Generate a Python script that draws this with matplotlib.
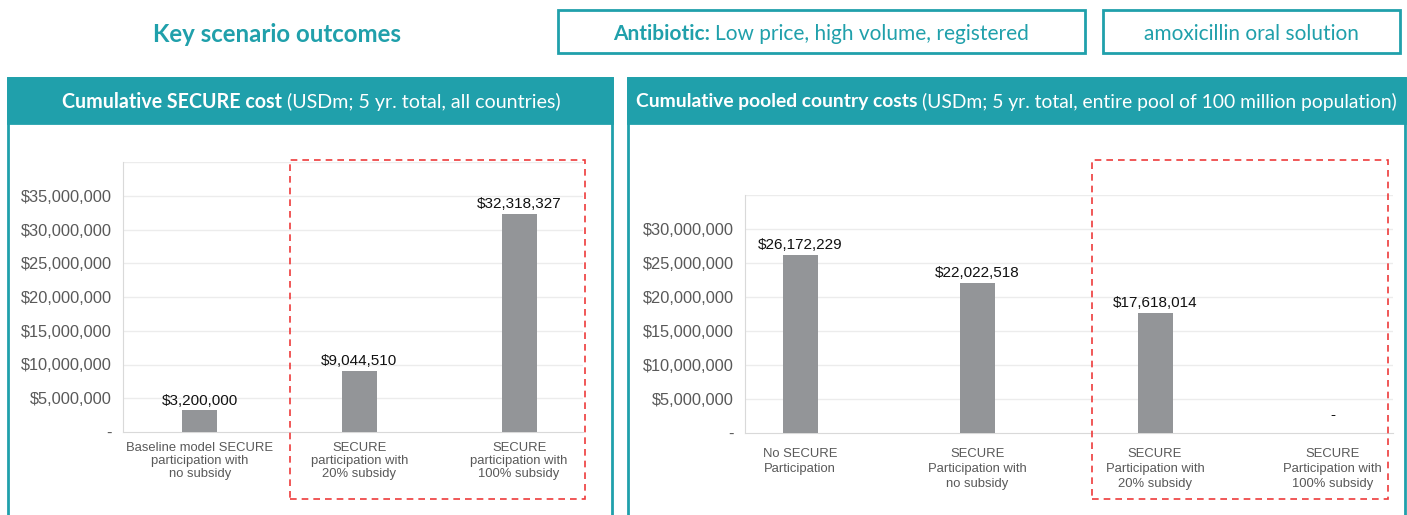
import matplotlib
matplotlib.use("Agg")
import matplotlib.pyplot as plt
from matplotlib.patches import Rectangle

# data
left_categories = ["Baseline model SECURE\nparticipation with\nno subsidy",
                   "SECURE\nparticipation with\n20% subsidy",
                   "SECURE\nparticipation with\n100% subsidy"]
left_values = [3200000, 9044510, 32318327]
left_ticks = [0, 5000000, 10000000, 15000000, 20000000, 25000000, 30000000, 35000000]

right_categories = ["No SECURE\nParticipation",
                    "SECURE\nParticipation with\nno subsidy",
                    "SECURE\nParticipation with\n20% subsidy",
                    "SECURE\nParticipation with\n100% subsidy"]
right_values = [26172229, 22022518, 17618014, 0]
right_ticks = [0, 5000000, 10000000, 15000000, 20000000, 25000000, 30000000]

TEAL = "#20a0ab"
BAR = "#939598"
W, H = 1407, 515

fig = plt.figure(figsize=(W / 100, H / 100), dpi=100)
fig.patch.set_facecolor("white")
HEAD = ["Lato", "DejaVu Sans"]
BODY = ["Liberation Sans", "DejaVu Sans"]


def px(x0, y0, x1, y1):
    # pixel box (top-left origin) -> figure fraction rect
    return [x0 / W, 1 - y1 / H, (x1 - x0) / W, (y1 - y0) / H]


def rect(x0, y0, x1, y1, **kw):
    r = Rectangle((x0 / W, 1 - y1 / H), (x1 - x0) / W, (y1 - y0) / H,
                  transform=fig.transFigure, **kw)
    fig.add_artist(r)


renderer = fig.canvas.get_renderer()


def two_part(cx, cy, bold, normal, size, color):
    # bold + regular text centred together on cx
    t1 = fig.text(0, 0, bold, fontsize=size, fontweight="bold", family=HEAD, color=color)
    t2 = fig.text(0, 0, normal, fontsize=size, family=HEAD, color=color)
    w1 = t1.get_window_extent(renderer).width
    w2 = t2.get_window_extent(renderer).width
    x = cx - (w1 + w2) / 2
    t1.set_position((x / W, 1 - cy / H))
    t2.set_position(((x + w1) / W, 1 - cy / H))
    t1.set_va("center")
    t2.set_va("center")


# top row
fig.text(277 / W, 1 - 35 / H, "Key scenario outcomes", fontsize=17.3, fontweight="bold",
         family=HEAD, color=TEAL, ha="center", va="center")
rect(558, 10, 1085, 53, fill=False, edgecolor=TEAL, linewidth=2)
two_part(821, 34, "Antibiotic: ", "Low price, high volume, registered", 15, TEAL)
rect(1103, 10, 1400, 53, fill=False, edgecolor=TEAL, linewidth=2)
fig.text(1251 / W, 1 - 34 / H, "amoxicillin oral solution", fontsize=15, family=HEAD,
         color=TEAL, ha="center", va="center")

# panel frames and headers
for x0, x1 in [(8, 612), (628, 1405)]:
    rect(x0, 78, x1, 520, fill=False, edgecolor=TEAL, linewidth=2)
    rect(x0, 78, x1, 123, facecolor=TEAL, edgecolor=TEAL, linewidth=2)
two_part(311, 102, "Cumulative SECURE cost ", "(USDm; 5 yr. total, all countries)", 14.1, "white")
two_part(1016, 102, "Cumulative pooled country costs ",
         "(USDm; 5 yr. total, entire pool of 100 million population)", 13.9, "white")


def money(v):
    return "-" if v == 0 else "${:,.0f}".format(v)


def bar_chart(box, cats, vals, ticks, ymax, xlim, width, xpad, lsp):
    ax = fig.add_axes(px(*box))
    pos = list(range(len(cats)))
    ax.bar(pos, vals, width=width, color=BAR, zorder=3)
    ax.set_xlim(*xlim)
    ax.set_ylim(0, ymax)
    ax.set_yticks(ticks)
    ax.set_yticklabels([money(t) for t in ticks], fontsize=11.8, family=BODY, color="#595959")
    ax.set_xticks(pos)
    ax.set_xticklabels(cats, fontsize=9.4, family=BODY, color="#595959", linespacing=lsp)
    ax.tick_params(axis="x", length=0, pad=xpad)
    ax.tick_params(axis="y", length=0, pad=8)
    for t in ticks[1:] + [ymax]:
        ax.axhline(t, color="#ececec", linewidth=1, zorder=1)
    for s in ["top", "right"]:
        ax.spines[s].set_visible(False)
    for s in ["left", "bottom"]:
        ax.spines[s].set_color("#d9d9d9")
    for p, v in zip(pos, vals):
        ax.annotate(money(v), (p, v), xytext=(0, 2 if v else 8), textcoords="offset points",
                    ha="center", va="bottom", fontsize=11, family=BODY, color="#111111")
    return ax


bar_chart((123, 162, 583, 432), left_categories, left_values, left_ticks, 40000000,
          (-0.48, 2.4), 0.22, 7, 1.15)
bar_chart((745, 195, 1393, 433), right_categories, right_values, right_ticks, 35000000,
          (-0.31, 3.34), 0.197, 11, 1.3)

# red dashed highlight boxes
rect(290, 160, 585, 499, fill=False, edgecolor="#ee3b3b", linestyle=(0, (4, 3)), linewidth=1.2)
rect(1092, 160, 1388, 499, fill=False, edgecolor="#ee3b3b", linestyle=(0, (4, 3)), linewidth=1.2)

fig.savefig("out.png", dpi=100)
